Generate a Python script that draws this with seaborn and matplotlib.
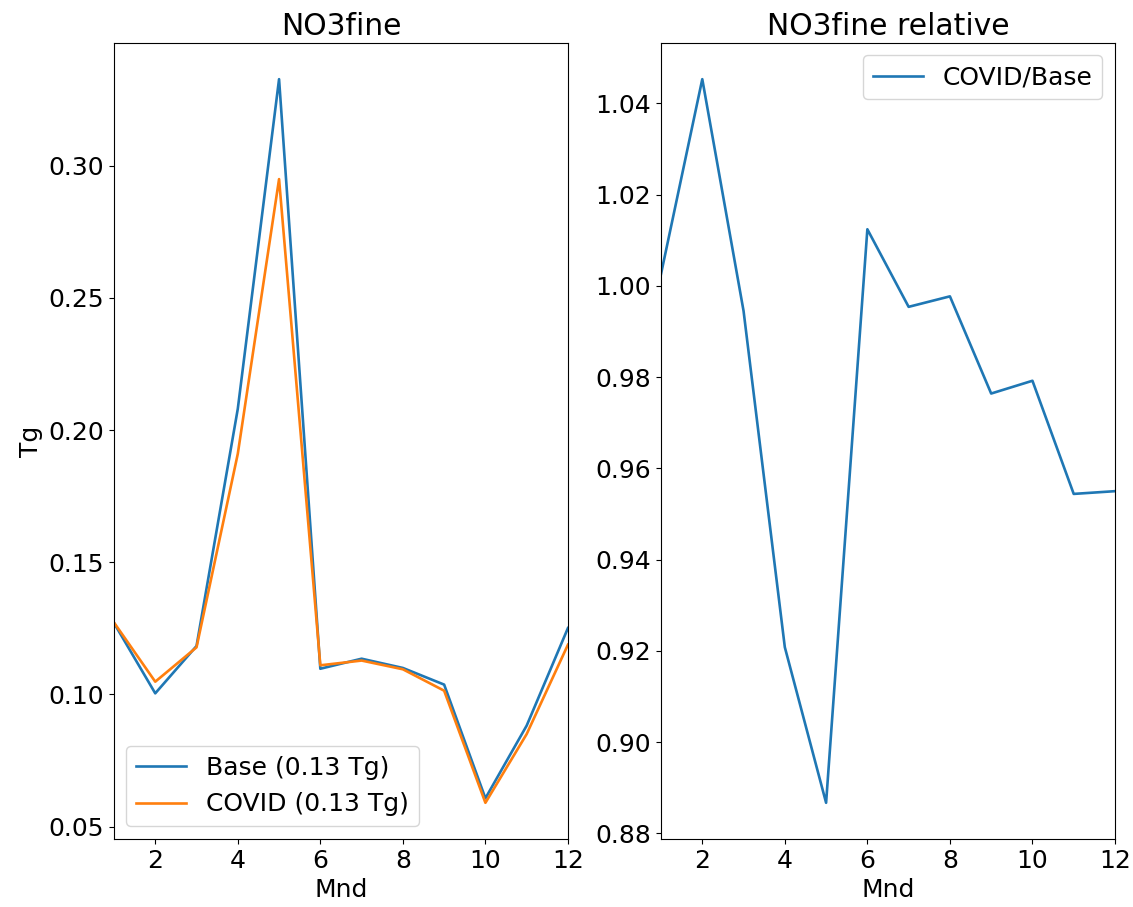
import numpy as np
import pandas as pd
import matplotlib
matplotlib.use("Agg")
import matplotlib.pyplot as plt
import seaborn as sns

months = [1, 2, 3, 4, 5, 6, 7, 8, 9, 10, 11, 12]
base = [0.127, 0.1004, 0.1183, 0.208, 0.3327, 0.1097, 0.1135, 0.1100, 0.1037, 0.0607, 0.0882, 0.1251]
covid = [0.1272, 0.1048, 0.1178, 0.191, 0.2949, 0.1110, 0.1128, 0.1095, 0.1014, 0.0590, 0.0850, 0.1188]
relative = [1.0026, 1.0453, 0.9945, 0.9208, 0.8867, 1.0124, 0.9954, 0.9977, 0.9764, 0.9792, 0.9544, 0.9550]

base_label = "Base (0.13 Tg)"
covid_label = "COVID (0.13 Tg)"
rel_label = "COVID/Base"

df = pd.DataFrame({
    "Mnd": months * 2,
    "Tg": base + covid,
    "series": [base_label] * 12 + [covid_label] * 12,
})
df_rel = pd.DataFrame({"Mnd": months, "ratio": relative})

plt.rcParams["font.family"] = ["DejaVu Sans"]

fig, (ax1, ax2) = plt.subplots(1, 2, figsize=(11.33, 9.07), dpi=100)
fig.subplots_adjust(left=0.1006, right=0.9841, bottom=0.075, top=0.9526, wspace=0.205)

colors = ["#1f77b4", "#ff7f0e"]
sns.lineplot(data=df, x="Mnd", y="Tg", hue="series", palette=colors, ax=ax1, linewidth=1.9)
ax1.set_xlim(1, 12)
ax1.set_title("NO3fine", fontsize=21.5)
ax1.set_xlabel("Mnd", fontsize=18)
ax1.set_ylabel("Tg", fontsize=18)
ax1.tick_params(labelsize=18)
ax1.legend(loc="lower left", fontsize=18)

sns.lineplot(data=df_rel, x="Mnd", y="ratio", color="#1f77b4", ax=ax2, linewidth=1.9, label=rel_label)
ax2.set_xlim(1, 12)
ax2.set_title("NO3fine relative", fontsize=21.5)
ax2.set_xlabel("Mnd", fontsize=18)
ax2.set_ylabel("")
ax2.tick_params(labelsize=18)
ax2.legend(loc="upper right", fontsize=18)

fig.savefig("out.png", dpi=100)
